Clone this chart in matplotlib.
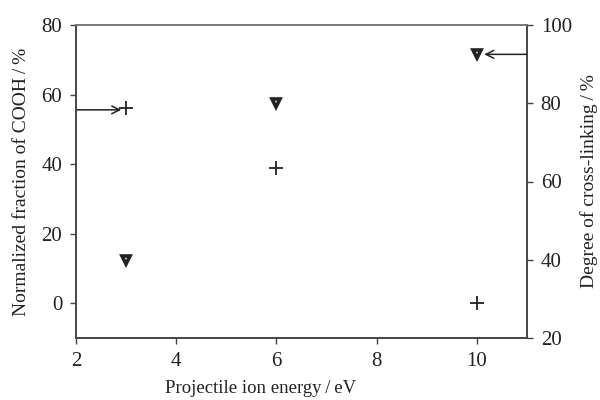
import matplotlib
matplotlib.use("Agg")
import matplotlib.pyplot as plt

# values
energy = [3, 6, 10]
cooh_fraction = [56, 39, 0]          # left axis, crosses
crosslink_degree = [40, 80, 92.5]    # right axis, triangles

x_ticks = [2, 4, 6, 8, 10]
left_ticks = [0, 20, 40, 60, 80]
right_ticks = [20, 40, 60, 80, 100]

INK = "#222222"
TS = "\u2009"  # thin space around the slash
plt.rcParams["font.family"] = ["Liberation Serif", "DejaVu Serif"]
plt.rcParams["font.size"] = 14

fig = plt.figure(figsize=(6, 4), dpi=100)
ax = fig.add_axes([0.127, 0.155, 0.751, 0.7825])
ax2 = ax.twinx()

ax.plot(energy, cooh_fraction, ls="none", marker="+", ms=10, mew=1.3, color=INK)
ax2.plot(energy, crosslink_degree, ls="none", marker="v", ms=6, mew=2.6,
         mfc="white", mec=INK)

ax.set_xlim(2, 11)
ax.set_ylim(-10, 80)
ax2.set_ylim(20, 100)
ax.set_xticks(x_ticks)
ax.set_yticks(left_ticks)
ax2.set_yticks(right_ticks)

# arrows pointing each series to its own axis
ax.annotate("", xy=(2.9, cooh_fraction[0] - 0.4), xytext=(2, cooh_fraction[0] - 0.4),
            arrowprops=dict(arrowstyle="->", color=INK, lw=1.1, shrinkA=0, shrinkB=0))
ax2.annotate("", xy=(10.15, crosslink_degree[2]), xytext=(11, crosslink_degree[2]),
             arrowprops=dict(arrowstyle="->", color=INK, lw=1.1, shrinkA=0, shrinkB=0))

for a in (ax, ax2):
    for s in a.spines.values():
        s.set_color("#444444")
        s.set_linewidth(1.2)
    a.spines["top"].set_color("#777777")
    a.tick_params(direction="out", length=4, width=1, pad=6, colors="#444444",
                  labelcolor=INK, labelsize=15)

ax.set_xlabel(f"Projectile ion energy{TS}/{TS}eV", color=INK, fontsize=13.5)
ax.xaxis.set_label_coords(0.41, -0.135)
ax.set_ylabel(f"Normalized fraction of COOH{TS}/{TS}%", color=INK, labelpad=8,
              fontsize=14)
ax2.set_ylabel(f"Degree of cross-linking{TS}/{TS}%", color=INK, labelpad=6,
               fontsize=14)

fig.savefig("out.png", dpi=100)
